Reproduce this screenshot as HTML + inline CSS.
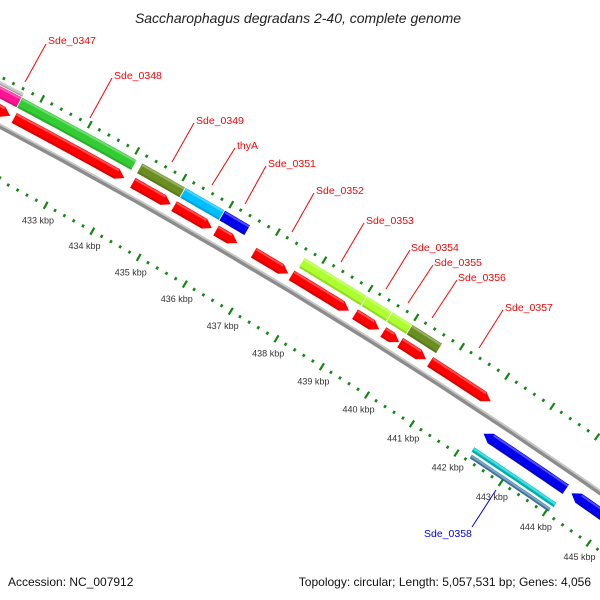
<!DOCTYPE html>
<html><head><meta charset="utf-8"><style>
html,body{margin:0;background:#fff;width:600px;height:600px;overflow:hidden;}
svg{display:block;font-family:"Liberation Sans",sans-serif;}
</style></head><body>
<svg id="map" width="600" height="600" viewBox="0 0 600 600">
<text x="298" y="23" text-anchor="middle" font-size="14" font-style="italic" fill="#222">Saccharophagus degradans 2-40, complete genome</text>
<text x="8" y="586" font-size="12" fill="#111">Accession: NC_007912</text>
<text x="591" y="586" text-anchor="end" font-size="12" fill="#111">Topology: circular; Length: 5,057,531 bp; Genes: 4,056</text>
<g id="layers"></g>
<g id="labels" font-size="10.5"></g>
</svg>
<script>
// ---- data (kbp) ----
const cogStarts = [430.5, 431.66, 434.19, 435.11, 435.95, 437.66, 439.02, 439.57, 440.01];
const cogEnds   = [431.66, 434.08, 435.11, 435.95, 436.50, 439.02, 439.57, 440.01, 440.67];
const cogColors = ['#ff1493', '#33cc33', '#6b8e23', '#00bfff', '#0000ee', '#adff2f', '#adff2f', '#adff2f', '#6b8e23'];
const fwdStarts = [430.5, 431.70, 434.21, 435.09, 435.99, 436.80, 437.62, 439.00, 439.62, 439.99, 440.65];
const fwdEnds   = [431.64, 434.05, 435.04, 435.92, 436.47, 437.57, 438.89, 439.55, 439.99, 440.58, 442.01];
const revStarts = [442.21, 444.19];
const revEnds   = [444.08, 446.5];
const extraStarts = [442.21];
const extraEnds = [444.08];
const tickKbp = [433,434,435,436,437,438,439,440,441,442,443,444,445];
const tickLabels = ['433 kbp','434 kbp','435 kbp','436 kbp','437 kbp','438 kbp','439 kbp','440 kbp','441 kbp','442 kbp','443 kbp','444 kbp','445 kbp'];
const labelNames = ['Sde_0347','Sde_0348','Sde_0349','thyA','Sde_0351','Sde_0352','Sde_0353','Sde_0354','Sde_0355','Sde_0356','Sde_0357','Sde_0358'];

// ---- geometry ----
const CX=-2716, CY=5251, R0=5800;
const TH0=-1.0700, DTH=0.00927;
function ang(k){return TH0+(k-433)*DTH;}
function pt(k,d){const a=ang(k),r=R0+d;return [CX+r*Math.cos(a), CY+r*Math.sin(a)];}
const NS='http://www.w3.org/2000/svg';
const layers=document.getElementById('layers');
function el(tag,attrs,parent){const e=document.createElementNS(NS,tag);for(const k in attrs)e.setAttribute(k,attrs[k]);(parent||layers).appendChild(e);return e;}
function arcPts(k1,k2,d){const n=12,a=[];for(let i=0;i<=n;i++)a.push(pt(k1+(k2-k1)*i/n,d));return a;}
function bar(k1,k2,d,h,fill,dir,name){
  const head=0.17; let outer,inner,tip=[];
  let a1=k1,a2=k2;
  if(dir===1){a2=k2-head;tip=[pt(k2,d)];}
  if(dir===-1){a1=k1+head;}
  outer=arcPts(a1,a2,d+h/2); inner=arcPts(a1,a2,d-h/2).reverse();
  let pts=[];
  if(dir===-1)pts.push(pt(k1,d));
  pts=pts.concat(outer,tip,inner);
  const p=el('polygon',{points:pts.map(q=>q[0].toFixed(1)+','+q[1].toFixed(1)).join(' '),fill:fill,stroke:'#fff','stroke-width':'0.8'});
  
  
  const hl=arcPts(a1+0.02,a2,d+h/2-1).concat(arcPts(a1+0.02,a2,d+h/2-3).reverse());
  const s=el('polygon',{points:hl.map(q=>q[0].toFixed(1)+','+q[1].toFixed(1)).join(' '),fill:'#fff',opacity:'0.3'});
  
  
  const sh=arcPts(a1+0.02,a2,d-h/2+2.5).concat(arcPts(a1+0.02,a2,d-h/2+0.5).reverse());
  const t=el('polygon',{points:sh.map(q=>q[0].toFixed(1)+','+q[1].toFixed(1)).join(' '),fill:'#000',opacity:'0.15'});
  
  
}
// backbone
{
  const o=arcPts(428,447.5,2.5),i=arcPts(428,447.5,-2.5).reverse();
  const b=el('polygon',{points:o.concat(i).map(q=>q.join(',')).join(' '),fill:'#8c8c8c'});
  
  
  const o2=arcPts(428,447.5,2.5),i2=arcPts(428,447.5,0.8).reverse();
  const b2=el('polygon',{points:o2.concat(i2).map(q=>q.join(',')).join(' '),fill:'#c8c8c8'});
  
  
}
bar(430.5,431.66,38,5,'#bbbbbb',0,'gene-gray');
for(let i=0;i<cogStarts.length;i++)bar(cogStarts[i],cogEnds[i],30,12,cogColors[i],0,'cog-gene-'+i);
for(let i=0;i<fwdStarts.length;i++)bar(fwdStarts[i],fwdEnds[i],14,12,'#ff0000',1,'forward-cds-'+i);
for(let i=0;i<revStarts.length;i++)bar(revStarts[i],revEnds[i],-17,12,'#0000ee',-1,'reverse-cds-'+i);
for(let i=0;i<extraStarts.length;i++){
  bar(extraStarts[i],extraEnds[i],-36,6,'#00cccc',0,'reverse-cyan-'+i);
  bar(extraStarts[i]+0.04,extraEnds[i]-0.03,-43,5,'#4682b4',0,'reverse-steelblue-'+i);
}
function tick(k,d,len,w,name){
  const a=pt(k,d-len/2),b=pt(k,d+len/2);
  const l=el('line',{x1:a[0],y1:a[1],x2:b[0],y2:b[1],stroke:'#118811','stroke-width':w});
  
  
}
for(let k=428;k<=447.01;k+=0.2){
  const major=Math.abs(k-Math.round(k))<0.01;
  tick(k,44,major?8:3,major?2.2:2.5,major?'outer-major-tick':'outer-minor-tick');
  tick(k,-48,major?8:3,major?2.2:2.5,major?'inner-major-tick':'inner-minor-tick');
}
for(let i=0;i<tickKbp.length;i++){
  const p=pt(tickKbp[i],-64);
  const t=el('text',{x:p[0].toFixed(1),y:(p[1]+4).toFixed(1),'text-anchor':'middle','font-size':'9',fill:'#333'});
  t.textContent=tickLabels[i];
  
  
}
const lab=document.getElementById('labels');
const lp=[[48,40,46,44,25,82],[114,75,112,78,90,118],[196,120,194,123,172,162],[237,145,235,148,212,185],[268,163,266,166,245,204],[316,190,314,193,292,232],[366,220,364,223,341,262],[411,247,410,250,386,289],[434,262,433,265,408,303],[458,277,457,280,432,318],[505,307,503,310,479,348],[424,533,472,527,496,490]];
for(let i=0;i<labelNames.length;i++){
  const c=i===11?'#0000ee':'#ff0000', q=lp[i];
  const l=el('line',{x1:q[2],y1:q[3],x2:q[4],y2:q[5],stroke:c,'stroke-width':1},lab);
  
  
  const t=el('text',{x:q[0],y:q[1]+4,fill:c},lab);
  t.textContent=labelNames[i];
  
  
}
</script>
</body></html>
